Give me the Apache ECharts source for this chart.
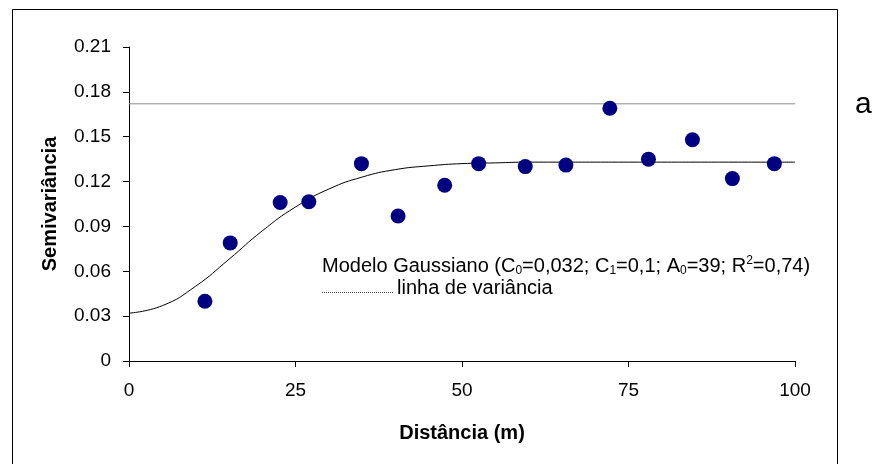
<!DOCTYPE html>
<html>
<head>
<meta charset="utf-8">
<script src="https://cdn.jsdelivr.net/npm/echarts@6/dist/echarts.min.js"></script>
<style>
html,body{margin:0;padding:0;background:#fff;}
#chart{width:877px;height:464px;}
</style>
</head>
<body>
<div id="chart"></div>
<script>
// Observed semivariance points [distance (m), semivariance]
const distances = [11.4, 15.2, 22.7, 27.0, 34.9, 40.4, 47.4, 52.5, 59.5, 65.6, 72.2, 78.0, 84.6, 90.6, 96.9];
const semivariance = [0.040, 0.079, 0.106, 0.1065, 0.132, 0.097, 0.1175, 0.132, 0.130, 0.131, 0.169, 0.135, 0.148, 0.122, 0.132];

// Gaussian model curve, every 5 m
const modelDistances = [0, 5, 10, 15, 20, 25, 30, 35, 40, 45, 50, 55, 60, 65, 70, 75, 80, 85, 90, 95, 100];
const modelValues = [0.032, 0.037, 0.050, 0.068, 0.087, 0.103, 0.115, 0.123, 0.128, 0.1305, 0.132, 0.1325, 0.133, 0.133, 0.133, 0.133, 0.133, 0.133, 0.133, 0.133, 0.133];

// Variance line
const varianceX = [0, 100];
const varianceValue = 0.172;

// Tick labels
const yTickLabels = ['0', '0.03', '0.06', '0.09', '0.12', '0.15', '0.18', '0.21'];
const xTickLabels = ['0', '25', '50', '75', '100'];

const FONT = 'Liberation Sans';

const chart = echarts.init(document.getElementById('chart'), null, {renderer: 'canvas'});

const option = {
  animation: false,
  backgroundColor: '#ffffff',
  grid: {left: 129, right: 82, top: 47, bottom: 103, containLabel: false},
  xAxis: {
    type: 'value',
    min: 0, max: 100, interval: 25,
    name: 'Distância (m)',
    nameLocation: 'middle',
    nameGap: 62,
    nameTextStyle: {fontFamily: FONT, fontSize: 20, fontWeight: 'bold', color: '#000'},
    axisLine: {show: true, lineStyle: {color: '#000', width: 1}},
    axisTick: {show: true, inside: false, length: 6, lineStyle: {color: '#000'}},
    axisLabel: {
      margin: 20, fontFamily: FONT, fontSize: 19, color: '#000',
      formatter: v => xTickLabels[Math.round(v / 25)]
    },
    splitLine: {show: false}
  },
  yAxis: {
    type: 'value',
    min: 0, max: 0.21, interval: 0.03,
    name: 'Semivariância',
    nameLocation: 'middle',
    nameGap: 69,
    nameRotate: 90,
    nameTextStyle: {fontFamily: FONT, fontSize: 20, fontWeight: 'bold', color: '#000'},
    axisLine: {show: true, lineStyle: {color: '#000', width: 1}},
    axisTick: {show: true, inside: false, length: 6, lineStyle: {color: '#000'}},
    axisLabel: {
      margin: 18, fontFamily: FONT, fontSize: 19, color: '#000',
      formatter: v => yTickLabels[Math.round(v / 0.03)]
    },
    splitLine: {show: false}
  },
  series: [
    {
      name: 'linha de variância',
      type: 'line',
      data: varianceX.map(x => [x, varianceValue]),
      symbol: 'none',
      lineStyle: {color: '#8c8c8c', width: 1},
      z: 1
    },
    {
      name: 'Modelo Gaussiano',
      type: 'line',
      data: modelDistances.map((x, i) => [x, modelValues[i]]),
      smooth: true,
      symbol: 'none',
      lineStyle: {color: '#000', width: 1},
      z: 2
    },
    {
      name: 'Semivariância',
      type: 'scatter',
      data: distances.map((x, i) => [x, semivariance[i]]),
      symbol: 'circle',
      symbolSize: 15,
      itemStyle: {color: '#000080', opacity: 1},
      z: 3
    }
  ],
  graphic: [
    {
      type: 'rect',
      shape: {x: 12.5, y: 9.5, width: 825, height: 470},
      style: {fill: 'none', stroke: '#000', lineWidth: 1},
      silent: true, z: 0
    },
    {
      type: 'text',
      left: 322, top: 255,
      style: {
        text: '{t|Modelo Gaussiano (C}{s|0}{t|=0,032; C}{s|1}{t|=0,1; A}{s|0}{t|=39; R}{p|2}{t|=0,74)}',
        fill: '#000',
        rich: {
          t: {fontFamily: FONT, fontSize: 20, lineHeight: 22, fill: '#000'},
          s: {fontFamily: FONT, fontSize: 12, lineHeight: 22, verticalAlign: 'bottom', fill: '#000'},
          p: {fontFamily: FONT, fontSize: 12, lineHeight: 22, verticalAlign: 'top', fill: '#000'}
        }
      }
    },
    {
      type: 'line',
      shape: {x1: 322, y1: 292.5, x2: 394, y2: 292.5},
      style: {stroke: '#444', lineWidth: 1, lineDash: [1, 1]},
      silent: true
    },
    {
      type: 'text',
      left: 397, top: 278,
      style: {text: 'linha de variância', fontFamily: FONT, fontSize: 20, fill: '#000'}
    },
    {
      type: 'text',
      left: 855, top: 90,
      style: {text: 'a', fontFamily: FONT, fontSize: 30, fill: '#000'}
    }
  ]
};
chart.setOption(option);
</script>
</body>
</html>
